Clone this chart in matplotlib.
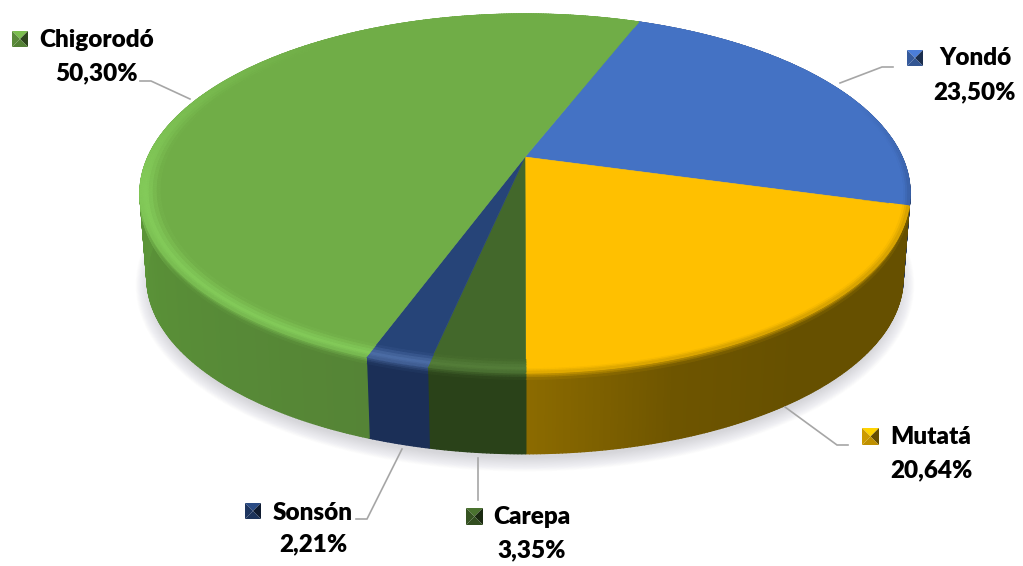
import numpy as np
import matplotlib
matplotlib.use('Agg')
import matplotlib.pyplot as plt
from matplotlib.collections import PolyCollection
from matplotlib.colors import to_rgb
from matplotlib.patches import Ellipse, Polygon

# Datos (sentido horario desde el borde superior derecho)
municipios = ['Yondó', 'Mutatá', 'Carepa', 'Sonsón', 'Chigorodó']
porcentajes = [23.50, 20.64, 3.35, 2.21, 50.30]
etiquetas = ['23,50%', '20,64%', '3,35%', '2,21%', '50,30%']

# Colores
color_cara = ['#4472C4', '#FFC000', '#43682B', '#264478', '#70AD47']
color_brillo = ['#4472C4', '#FFC000', '#557F3A', '#4E6FA8', '#84CC5A']
color_lado = [['#1F3560', '#1F3560'],
              ['#665000', '#665000', '#665000', '#6E5500', '#8C6B00'],
              ['#2A4219', '#2A4219'],
              ['#1B2F57', '#1B2F57'],
              ['#558436', '#5B9438', '#66A53F', '#66A53F']]
color_linea = '#A6A6A6'

# Geometria del disco en pixeles (perspectiva simple)
cx, y0 = 525., 157.
a, b, k = 377., 172., 0.203
giro = 21.0
cy_sup, cy_inf = 193.5, 278.
esc_x, esc_y = 0.982, 0.98


def proyectar(ang, r=1.):
    x = r * np.sin(ang)
    y = r * np.cos(ang)
    d = 1 + k * y
    return cx + a * x / d, y0 - b * y / d


def borde_inf(ang):
    X, Y = proyectar(ang)
    return cx + esc_x * (X - cx), cy_inf + esc_y * (Y - cy_sup)


def punto(ang, s):
    # s < 1: sobre la cara, radio s. s >= 1: sobre el lado, t = s - 1
    if s <= 1:
        return proyectar(ang, s)
    X, Y = proyectar(ang)
    X2, Y2 = borde_inf(ang)
    t = s - 1
    return X + t * (X2 - X), Y + t * (Y2 - Y)


def mezcla(c1, c2, f):
    return c1 + (c2 - c1) * f[:, None]


fig = plt.figure(figsize=(10.23, 5.66), dpi=100)
ax = fig.add_axes([0, 0, 1, 1])
ax.set_xlim(0, 1023)
ax.set_ylim(566, 0)
ax.axis('off')

# Sombra difusa bajo el disco
n_sombra = 18
for i in range(n_sombra):
    f = i / (n_sombra - 1)
    ax.add_patch(Ellipse((cx, cy_inf + 7), 2 * 378 * (1.03 - 0.04 * f), 2 * 176 * (1.06 - 0.08 * f),
                         fc='#8A8A98', ec='none', alpha=0.018, zorder=1))

# Perfil del borde: cara -> brillo -> lado
perfil = np.array([0.95, 0.96, 0.97, 0.98, 0.985, 0.99, 0.995, 1.0,
                   1.02, 1.04, 1.06, 1.08])
ini = np.deg2rad(giro)
for i, v in enumerate(porcentajes):
    fin = ini + np.deg2rad(v * 3.6)
    angs = np.linspace(ini, fin, max(12, int(v * 8)))
    cara = np.array(to_rgb(color_cara[i]))
    brillo = np.array(to_rgb(color_brillo[i]))
    stops = [to_rgb(c) for c in color_lado[i]]
    fr = np.linspace(0, 1, len(stops))
    fx = (angs[:-1] + angs[1:]) / 2
    frac = (fx - ini) / (fin - ini)
    lado = np.array([np.interp(frac, fr, [s[c] for s in stops]) for c in range(3)]).T
    yy = np.cos(fx)
    f_b = np.clip(0.8 - yy, 0, 1)
    f_l = np.clip((0.35 - yy) / 0.5, 0, 1)
    f_l[np.sin(fx) < 0] = np.clip((-0.1 - yy[np.sin(fx) < 0]) / 0.5, 0, 1)

    # cara superior
    xs, ys = proyectar(angs)
    ax.add_patch(Polygon(np.vstack([[cx, y0], np.column_stack([xs, ys])]),
                         closed=True, fc=color_cara[i], ec=color_cara[i], lw=0.4, zorder=4))

    # lado del disco
    X, Y = punto(angs, 1.0)
    X2, Y2 = borde_inf(angs)
    quads = [np.array([[X[j], Y[j]], [X[j + 1], Y[j + 1]], [X2[j + 1], Y2[j + 1]], [X2[j], Y2[j]]])
             for j in range(len(angs) - 1)]
    ax.add_collection(PolyCollection(quads, facecolors=lado, edgecolors=lado, linewidths=1.0, zorder=2))

    # banda biselada: lo que cae sobre la cara va encima, lo del lado queda debajo de la cara
    q_cara, c_cara, q_lado, c_lado = [], [], [], []
    c_atras = mezcla(cara, brillo, f_b)
    for s1, s2 in zip(perfil[:-1], perfil[1:]):
        sm = (s1 + s2) / 2
        p1x, p1y = punto(angs, s1)
        p2x, p2y = punto(angs, s2)
        if sm < 0.985:
            c = mezcla(cara, brillo, f_b * (sm - 0.95) / 0.035)
        elif sm < 1.0:
            w = (sm - 0.985) / 0.015
            c = c_atras * (1 - w) + (c_atras * 0.7 + lado * 0.3) * w
        else:
            w = min((sm - 1.0) / 0.08, 1)
            c = (c_atras * 0.7 + lado * 0.3) * (1 - w) + lado * w
        # atras no hay lado: se queda con el color de la cara
        if sm >= 0.985:
            c = c_atras + (c - c_atras) * f_l[:, None]
        for j in range(len(angs) - 1):
            q = np.array([[p1x[j], p1y[j]], [p1x[j + 1], p1y[j + 1]],
                          [p2x[j + 1], p2y[j + 1]], [p2x[j], p2y[j]]])
            if sm < 1.0:
                q_cara.append(q)
                c_cara.append(np.clip(c[j], 0, 1))
            else:
                q_lado.append(q)
                c_lado.append(np.clip(c[j], 0, 1))
    ax.add_collection(PolyCollection(q_lado, facecolors=c_lado, edgecolors=c_lado, linewidths=0.8, zorder=3))
    ax.add_collection(PolyCollection(q_cara, facecolors=c_cara, edgecolors=c_cara, linewidths=0.8, zorder=4.5))
    ini = fin

# Lineas guia
guias = {'Yondó': [(840, 83), (882, 67), (893, 67)],
         'Mutatá': [(785, 407), (837, 445), (848, 445)],
         'Carepa': [(478, 458), (478, 500)],
         'Sonsón': [(402, 449), (367, 519), (356, 519)],
         'Chigorodó': [(190, 99), (151, 81), (140, 81)]}
for nombre in municipios:
    g = np.array(guias[nombre])
    ax.plot(g[:, 0], g[:, 1], color=color_linea, lw=1.2, zorder=5, solid_joinstyle='miter')

# Etiquetas: (x marcador, y marcador, lado, x texto, y nombre, y porcentaje)
pos = {'Yondó': (907, 50, 16, 975, 58, 92),
       'Mutatá': (862, 428, 17, 931, 437, 470),
       'Carepa': (466, 508, 17, 532, 517, 550),
       'Sonsón': (245, 503, 16, 313, 513, 544),
       'Chigorodó': (12, 31, 16, 97, 40, 73)}
for i, nombre in enumerate(municipios):
    mx, my, ml, tx, ty1, ty2 = pos[nombre]
    c = np.array(to_rgb(color_cara[i]))
    mid = (mx + ml / 2, my + ml / 2)
    esq = [(mx, my), (mx + ml, my), (mx + ml, my + ml), (mx, my + ml)]
    luces = [1.1, 0.4, 0.75, 0.8]   # arriba, derecha, abajo, izquierda
    for q, luz in enumerate(luces):
        ax.add_patch(Polygon([esq[q], esq[(q + 1) % 4], mid], closed=True,
                             fc=np.clip(c * luz, 0, 1), ec='none', zorder=6))
    ax.text(tx, ty1, nombre, ha='center', va='center', family='Lato', weight='heavy',
            fontsize=17.5, color='black', zorder=7)
    ax.text(tx, ty2, etiquetas[i], ha='center', va='center', family='Lato', weight='heavy',
            fontsize=17.5, color='black', zorder=7)

plt.savefig('out.png', dpi=100)
